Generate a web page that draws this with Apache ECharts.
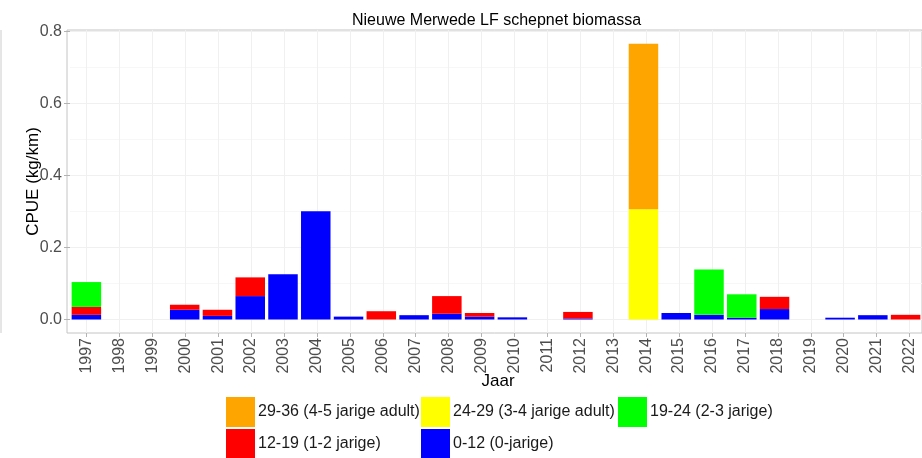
<!DOCTYPE html>
<html>
<head>
<meta charset="utf-8">
<script src="https://cdn.jsdelivr.net/npm/echarts@6/dist/echarts.min.js"></script>
<style>
  html, body { margin: 0; padding: 0; background: #fff; }
  #chart { width: 922px; height: 458px; }
</style>
</head>
<body>
<div id="chart"></div>
<script>
// jaren en CPUE per lengteklasse (kg/km)
var years = ['1997','1998','1999','2000','2001','2002','2003','2004','2005','2006','2007','2008','2009',
             '2010','2011','2012','2013','2014','2015','2016','2017','2018','2019','2020','2021','2022'];
var len0_12  = [0.013,0,0,0.027,0.010,0.065,0.126,0.301,0.008,0,0.012,0.016,0.008,
                0.006,0,0.003,0,0,0.018,0.013,0.005,0.029,0,0.005,0.012,0];
var len12_19 = [0.022,0,0,0.014,0.017,0.052,0,0,0,0.023,0,0.049,0.010,
                0,0,0.018,0,0,0,0,0,0.034,0,0,0,0.013];
var len19_24 = [0.069,0,0,0,0,0,0,0,0,0,0,0,0,
                0,0,0,0,0,0,0.126,0.065,0,0,0,0,0];
var len24_29 = [0,0,0,0,0,0,0,0,0,0,0,0,0,
                0,0,0,0,0.306,0,0,0,0,0,0,0,0];
var len29_36 = [0,0,0,0,0,0,0,0,0,0,0,0,0,
                0,0,0,0,0.460,0,0,0,0,0,0,0,0];
var yTicks = [0, 0.2, 0.4, 0.6, 0.8];

var names = ['29-36 (4-5 jarige adult)', '24-29 (3-4 jarige adult)', '19-24 (2-3 jarige)',
             '12-19 (1-2 jarige)', '0-12 (0-jarige)'];
var colors = ['#FFA500', '#FFFF00', '#00FF00', '#FF0000', '#0000FF'];

var font = 'Liberation Sans, Arial, sans-serif';
var chart = echarts.init(document.getElementById('chart'));

function bar(name, color, data){
	return {
		name: name,
		type: 'bar',
		stack: 'cpue',
		xAxisIndex: 0,
		yAxisIndex: 0,
		barCategoryGap: '10%',
		itemStyle: { color: color },
		data: data
	};
}

function legendAt(name, left, top){
	return {
		data: [name],
		left: left,
		top: top,
		padding: 0,
		itemWidth: 29,
		itemHeight: 30,
		icon: 'rect',
		selectedMode: false,
		textStyle: { fontFamily: font, fontSize: 16, color: '#1a1a1a', padding: [0, 0, 0, -2] }
	};
}

var option = {
	animation: false,
	title: {
		text: 'Nieuwe Merwede LF schepnet biomassa',
		left: 347,
		top: 8,
		textStyle: { fontFamily: font, fontSize: 16, fontWeight: 'normal', color: '#000' }
	},
	legend: [
		legendAt(names[0], 226, 397),
		legendAt(names[1], 421, 397),
		legendAt(names[2], 618, 397),
		legendAt(names[3], 226, 429),
		legendAt(names[4], 421, 429)
	],
	graphic: [{
		type: 'line',
		shape: { x1: 1, y1: 30, x2: 1, y2: 333 },
		style: { stroke: '#cccccc', lineWidth: 1 }
	}],
	grid: [
		{ left: 70, right: -4, top: 31.5, height: 288 },
		{ left: 67, top: 30, width: 870, height: 303, show: true,
		  borderColor: '#c4c4c4', borderWidth: 1, backgroundColor: 'transparent' },
		{ left: 86.46, width: 823.1, top: 30, height: 303 }
	],
	xAxis: [
		{ gridIndex: 0, type: 'category', data: years,
		  axisLine: { show: false }, axisTick: { show: false }, axisLabel: { show: false },
		  splitLine: { show: false } },
		{ gridIndex: 1, type: 'category', data: years, show: false },
		{ gridIndex: 2, type: 'category', data: years, boundaryGap: false,
		  axisLine: { show: false },
		  axisTick: { show: true, length: 4, lineStyle: { color: '#b3b3b3' } },
		  axisLabel: { rotate: 90, margin: 5, fontFamily: font, fontSize: 16, color: '#4d4d4d', interval: 0 },
		  splitLine: { show: true, lineStyle: { color: '#f0f0f0', width: 1 } },
		  name: 'Jaar', nameLocation: 'middle', nameGap: 40, nameMoveOverlap: false,
		  nameTextStyle: { fontFamily: font, fontSize: 17, color: '#000', verticalAlign: 'top' } }
	],
	yAxis: [
		{ gridIndex: 0, type: 'value', min: yTicks[0], max: yTicks[yTicks.length - 1], interval: 0.2,
		  axisLine: { show: false },
		  axisTick: { show: true, length: 6, lineStyle: { color: '#b3b3b3' } },
		  axisLabel: { margin: 8, fontFamily: font, fontSize: 16, color: '#4d4d4d',
		               formatter: function(v){ return v.toFixed(1); } },
		  splitLine: { show: true, lineStyle: { color: '#f0f0f0', width: 1 } },
		  minorTick: { show: false, splitNumber: 2 },
		  minorSplitLine: { show: true, lineStyle: { color: '#f7f7f7', width: 1 } } },
		{ gridIndex: 1, type: 'value',
		  axisLine: { show: false }, axisTick: { show: false }, axisLabel: { show: false },
		  splitLine: { show: false },
		  name: 'CPUE (kg/km)', nameLocation: 'middle', nameGap: 25,
		  nameTextStyle: { fontFamily: font, fontSize: 17, color: '#000' } },
		{ gridIndex: 2, type: 'value', show: false, splitLine: { show: false } }
	],
	series: [
		bar(names[4], colors[4], len0_12),
		bar(names[3], colors[3], len12_19),
		bar(names[2], colors[2], len19_24),
		bar(names[1], colors[1], len24_29),
		bar(names[0], colors[0], len29_36)
	]
};

chart.setOption(option);
</script>
</body>
</html>
